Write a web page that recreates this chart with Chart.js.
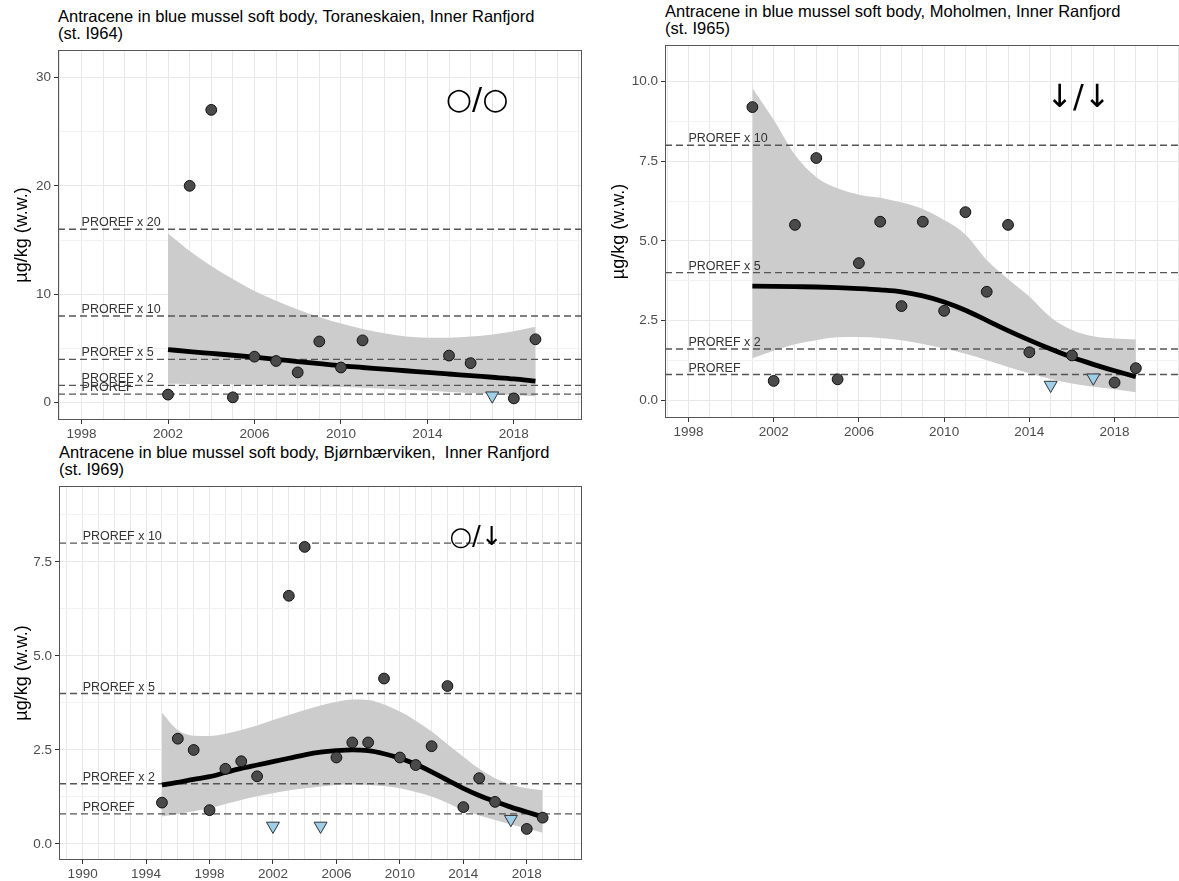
<!DOCTYPE html>
<html>
<head>
<meta charset="utf-8">
<script src="https://cdn.jsdelivr.net/npm/chart.js@4.4.0/dist/chart.umd.min.js"></script>
<style>
  html, body { margin: 0; padding: 0; background: #fff; overflow: hidden; }
  body { width: 1179px; height: 881px; position: relative; font-family: "Liberation Sans", Arial, sans-serif; }
  canvas { position: absolute; }
  .title { position: absolute; font-size: 16.5px; line-height: 17px; color: #000; white-space: nowrap; }
</style>
</head>
<body>
<div class="title" style="left:58px; top:8px;">Antracene in blue mussel soft body, Toraneskaien, Inner Ranfjord<br>(st. I964)</div>
<div class="title" style="left:665px; top:3px;">Antracene in blue mussel soft body, Moholmen, Inner Ranfjord<br>(st. I965)</div>
<div class="title" style="left:59px; top:444px;">Antracene in blue mussel soft body, Bjørnbærviken,&nbsp; Inner Ranfjord<br>(st. I969)</div>

<canvas id="c1" width="590" height="440" style="left:0; top:0;"></canvas>
<canvas id="c2" width="610" height="440" style="left:590px; top:0;"></canvas>
<canvas id="c3" width="590" height="441" style="left:0; top:440px;"></canvas>

<script>
// ---- Toraneskaien (st. I964) ----
const yearsI964 = [2002, 2003, 2004, 2005, 2006, 2007, 2008, 2009, 2010, 2011, 2015, 2016, 2018, 2019];
const valuesI964 = [0.75, 20, 27, 0.5, 4.25, 3.85, 2.8, 5.65, 3.25, 5.75, 4.35, 3.65, 0.4, 5.85];
const loqYearsI964 = [2017];
const loqValuesI964 = [0.65];
const trendYearsI964 = [2002, 2003, 2004, 2005, 2006, 2007, 2008, 2009, 2010, 2011, 2012, 2013, 2014, 2015, 2016, 2017, 2018, 2019];
const trendI964 = [4.9, 4.72, 4.55, 4.38, 4.2, 4.0, 3.8, 3.6, 3.4, 3.25, 3.1, 2.95, 2.8, 2.65, 2.5, 2.35, 2.2, 2.0];
const upperI964 = [15.6, 14.0, 12.6, 11.4, 10.3, 9.4, 8.6, 7.9, 7.3, 6.8, 6.4, 6.1, 6.0, 6.0, 6.1, 6.3, 6.6, 7.0];
const lowerI964 = [1.75, 1.73, 1.7, 1.68, 1.65, 1.6, 1.55, 1.5, 1.45, 1.38, 1.3, 1.2, 1.1, 1.0, 0.9, 0.8, 0.7, 0.6];
const prorefI964 = [0.8, 1.6, 4, 8, 16];
const prorefLabelsI964 = ['PROREF', 'PROREF x 2', 'PROREF x 5', 'PROREF x 10', 'PROREF x 20'];
const xLabelsI964 = [1998, 2002, 2006, 2010, 2014, 2018];
const yLabelsI964 = [0, 10, 20, 30];

// ---- Moholmen (st. I965) ----
const yearsI965 = [2001, 2002, 2003, 2004, 2005, 2006, 2007, 2008, 2009, 2010, 2011, 2012, 2013, 2014, 2016, 2018, 2019];
const valuesI965 = [9.2, 0.6, 5.5, 7.6, 0.65, 4.3, 5.6, 2.95, 5.6, 2.8, 5.9, 3.4, 5.5, 1.5, 1.4, 0.55, 1.0];
const loqYearsI965 = [2015, 2017];
const loqValuesI965 = [0.47, 0.7];
const trendYearsI965 = [2001, 2002, 2003, 2004, 2005, 2006, 2007, 2008, 2009, 2010, 2011, 2012, 2013, 2014, 2015, 2016, 2017, 2018, 2019];
const trendI965 = [3.58, 3.57, 3.56, 3.55, 3.53, 3.5, 3.46, 3.4, 3.27, 3.08, 2.82, 2.5, 2.18, 1.88, 1.6, 1.34, 1.12, 0.92, 0.73];
const upperI965 = [9.8, 8.8, 7.7, 7.0, 6.65, 6.45, 6.35, 6.2, 6.0, 5.65, 5.2, 4.4, 3.8, 3.25, 2.6, 2.2, 2.0, 1.93, 1.9];
const lowerI965 = [1.31, 1.55, 1.75, 1.88, 1.97, 1.98, 1.95, 1.88, 1.76, 1.62, 1.45, 1.25, 1.04, 0.84, 0.66, 0.52, 0.42, 0.34, 0.24];
const prorefI965 = [0.8, 1.6, 4, 8];
const prorefLabelsI965 = ['PROREF', 'PROREF x 2', 'PROREF x 5', 'PROREF x 10'];
const xLabelsI965 = [1998, 2002, 2006, 2010, 2014, 2018];
const yLabelsI965 = [0, 2.5, 5, 7.5, 10];

// ---- Bjørnbærviken (st. I969) ----
const yearsI969 = [1995, 1996, 1997, 1998, 1999, 2000, 2001, 2003, 2004, 2006, 2007, 2008, 2009, 2010, 2011, 2012, 2013, 2014, 2015, 2016, 2018, 2019];
const valuesI969 = [1.1, 2.8, 2.5, 0.9, 2.0, 2.2, 1.8, 6.6, 7.9, 2.3, 2.7, 2.7, 4.4, 2.3, 2.1, 2.6, 4.2, 0.98, 1.75, 1.12, 0.4, 0.7];
const loqYearsI969 = [2002, 2005, 2017];
const loqValuesI969 = [0.48, 0.48, 0.66];
const trendYearsI969 = [1995, 1996, 1997, 1998, 1999, 2000, 2001, 2002, 2003, 2004, 2005, 2006, 2007, 2008, 2009, 2010, 2011, 2012, 2013, 2014, 2015, 2016, 2017, 2018, 2019];
const trendI969 = [1.57, 1.64, 1.72, 1.79, 1.9, 2.01, 2.1, 2.19, 2.28, 2.37, 2.44, 2.48, 2.5, 2.48, 2.4, 2.28, 2.12, 1.92, 1.7, 1.48, 1.29, 1.13, 0.98, 0.85, 0.72];
const upperI969 = [3.49, 3.03, 2.88, 2.87, 2.93, 3.03, 3.15, 3.3, 3.43, 3.56, 3.68, 3.78, 3.84, 3.83, 3.71, 3.52, 3.28, 2.99, 2.65, 2.32, 2.0, 1.75, 1.58, 1.48, 1.43];
const lowerI969 = [0.73, 0.8, 0.87, 0.95, 1.06, 1.17, 1.27, 1.35, 1.42, 1.48, 1.53, 1.57, 1.58, 1.57, 1.54, 1.48, 1.38, 1.26, 1.09, 0.9, 0.76, 0.64, 0.52, 0.42, 0.3];
const prorefI969 = [0.8, 1.6, 4, 8];
const prorefLabelsI969 = ['PROREF', 'PROREF x 2', 'PROREF x 5', 'PROREF x 10'];
const xLabelsI969 = [1990, 1994, 1998, 2002, 2006, 2010, 2014, 2018];
const yLabelsI969 = [0, 2.5, 5, 7.5];

const trendSymbols = ['○/○', '↓/↓', '○/↓'];
const yAxisTitle = 'µg/kg (w.w.)';

function range(a, b, step) {
  const out = [];
  for (let v = a; v <= b + 1e-9; v += step) out.push(Math.round(v * 100) / 100);
  return out;
}

function pairs(xs, ys) {
  return xs.map((x, i) => ({ x: x, y: ys[i] }));
}

// draws PROREF texts, the trend symbol and the panel frame
const panelDecor = {
  id: 'panelDecor',
  afterDatasetsDraw(chart, args, opts) {
    const ctx = chart.ctx;
    const xs = chart.scales.x, ys = chart.scales.y;
    ctx.save();
    ctx.fillStyle = '#333';
    ctx.font = '12.5px "Liberation Sans", Arial, sans-serif';
    ctx.textAlign = 'left';
    ctx.textBaseline = 'alphabetic';
    opts.levels.forEach((lev, i) => {
      ctx.fillText(opts.labels[i], xs.getPixelForValue(opts.labelX), ys.getPixelForValue(lev) - 3);
    });
    ctx.fillStyle = '#000';
    ctx.font = opts.symbolFont;
    ctx.textAlign = 'center';
    ctx.textBaseline = 'middle';
    ctx.fillText(opts.symbol, xs.getPixelForValue(opts.symbolX), ys.getPixelForValue(opts.symbolY));
    ctx.restore();
  },
  afterDraw(chart) {
    const a = chart.chartArea, ctx = chart.ctx;
    ctx.save();
    ctx.strokeStyle = '#555';
    ctx.lineWidth = 1;
    ctx.strokeRect(Math.round(a.left) + 0.5, Math.round(a.top) + 0.5, Math.round(a.right - a.left) - 1, Math.round(a.bottom - a.top) - 1);
    ctx.restore();
  }
};

function makePanel(id, p) {
  const datasets = [
    { type: 'line', data: pairs(p.trendYears, p.upper), borderWidth: 0, borderColor: 'rgba(0,0,0,0)', pointRadius: 0, fill: false, cubicInterpolationMode: 'monotone', order: 6 },
    { type: 'line', data: pairs(p.trendYears, p.lower), borderWidth: 0, borderColor: 'rgba(0,0,0,0)', pointRadius: 0, fill: '-1', backgroundColor: 'rgb(204,204,204)', cubicInterpolationMode: 'monotone', order: 5 }
  ];
  p.proref.forEach(lev => {
    datasets.push({ type: 'line', data: [{ x: p.xMin, y: lev }, { x: p.xMax, y: lev }], borderColor: '#555', borderWidth: 1.4, borderDash: [7, 4], pointRadius: 0, fill: false, order: 4 });
  });
  datasets.push({ type: 'line', data: pairs(p.trendYears, p.trend), borderColor: '#000', borderWidth: 4.8, pointRadius: 0, fill: false, cubicInterpolationMode: 'monotone', order: 3 });
  datasets.push({ type: 'scatter', data: pairs(p.years, p.values), pointRadius: 5.4, pointBackgroundColor: '#4a4a4a', pointBorderColor: '#111', pointBorderWidth: 1, order: 2 });
  datasets.push({ type: 'scatter', data: pairs(p.loqYears, p.loqValues), pointStyle: 'triangle', rotation: 180, pointRadius: 7.5, pointBackgroundColor: '#9dcfe9', pointBorderColor: '#333', pointBorderWidth: 1, order: 1 });

  const xTicks = range(Math.ceil(p.xMin), Math.floor(p.xMax), 1);
  const yTicks = range(0, p.yLabels[p.yLabels.length - 1] + p.yMinor, p.yMinor).filter(v => v <= p.yMax);
  const isXLab = v => p.xLabels.indexOf(v) >= 0;
  const isYLab = v => p.yLabels.indexOf(v) >= 0;

  new Chart(document.getElementById(id), {
    data: { datasets: datasets },
    plugins: [panelDecor],
    options: {
      responsive: false,
      animation: false,
      events: [],
      layout: { padding: { left: 0, top: p.padTop, right: p.padRight, bottom: 0 } },
      plugins: {
        legend: { display: false },
        tooltip: { enabled: false },
        panelDecor: { levels: p.proref, labels: p.prorefLabels, labelX: p.xLabels[0], symbol: p.symbol, symbolX: p.symbolX, symbolY: p.symbolY, symbolFont: p.symbolFont }
      },
      scales: {
        x: {
          type: 'linear', min: p.xMin, max: p.xMax,
          afterBuildTicks: axis => { axis.ticks = xTicks.map(v => ({ value: v })); },
          afterFit: axis => { axis.height = p.xAxisH; },
          border: { display: false },
          grid: {
            color: '#e8e8e8', lineWidth: 1, tickLength: 4,
            tickColor: c => (c.tick && isXLab(c.tick.value)) ? '#333' : 'rgba(0,0,0,0)'
          },
          ticks: { autoSkip: false, maxRotation: 0, padding: 2, color: '#4d4d4d', font: { size: 13.5, family: '"Liberation Sans", Arial, sans-serif' },
            callback: v => isXLab(v) ? String(v) : '' }
        },
        y: {
          type: 'linear', min: p.yMin, max: p.yMax,
          afterBuildTicks: axis => { axis.ticks = yTicks.map(v => ({ value: v })); },
          afterFit: axis => { axis.width = p.yAxisW; },
          border: { display: false },
          grid: {
            color: c => (c.tick && isYLab(c.tick.value)) ? '#e8e8e8' : '#f2f2f2',
            lineWidth: 1, tickLength: 4,
            tickColor: c => (c.tick && isYLab(c.tick.value)) ? '#333' : 'rgba(0,0,0,0)'
          },
          ticks: { autoSkip: false, padding: 3, color: '#4d4d4d', font: { size: 13.5, family: '"Liberation Sans", Arial, sans-serif' },
            callback: v => isYLab(v) ? (p.yDecimals ? v.toFixed(p.yDecimals) : String(v)) : '' },
          title: { display: true, text: yAxisTitle, color: '#000', font: { size: 18, family: '"Liberation Sans", Arial, sans-serif' }, padding: { top: p.yTitlePad, bottom: 0 } }
        }
      }
    }
  });
}

makePanel('c1', {
  years: yearsI964, values: valuesI964, loqYears: loqYearsI964, loqValues: loqValuesI964,
  trendYears: trendYearsI964, trend: trendI964, upper: upperI964, lower: lowerI964,
  proref: prorefI964, prorefLabels: prorefLabelsI964, xLabels: xLabelsI964, yLabels: yLabelsI964,
  xMin: 1996.91, xMax: 2021.13, yMin: -1.59, yMax: 32.52, yMinor: 5, yDecimals: 0,
  padTop: 50, padRight: 7, xAxisH: 20, yAxisW: 58, yTitlePad: 11,
  symbol: trendSymbols[0], symbolX: 2016.3, symbolY: 27.8, symbolFont: '30px "DejaVu Sans", sans-serif'
});

makePanel('c2', {
  years: yearsI965, values: valuesI965, loqYears: loqYearsI965, loqValues: loqValuesI965,
  trendYears: trendYearsI965, trend: trendI965, upper: upperI965, lower: lowerI965,
  proref: prorefI965, prorefLabels: prorefLabelsI965, xLabels: xLabelsI965, yLabels: yLabelsI965,
  xMin: 1996.9, xMax: 2021.61, yMin: -0.565, yMax: 11.15, yMinor: 1.25, yDecimals: 1,
  padTop: 45, padRight: 7, xAxisH: 22, yAxisW: 75, yTitlePad: 18,
  symbol: trendSymbols[1], symbolX: 2016.3, symbolY: 9.47, symbolFont: '32px "DejaVu Sans", sans-serif'
});

makePanel('c3', {
  years: yearsI969, values: valuesI969, loqYears: loqYearsI969, loqValues: loqValuesI969,
  trendYears: trendYearsI969, trend: trendI969, upper: upperI969, lower: lowerI969,
  proref: prorefI969, prorefLabels: prorefLabelsI969, xLabels: xLabelsI969, yLabels: yLabelsI969,
  xMin: 1988.51, xMax: 2021.45, yMin: -0.426, yMax: 9.52, yMinor: 1.25, yDecimals: 1,
  padTop: 46, padRight: 4, xAxisH: 21, yAxisW: 59, yTitlePad: 11,
  symbol: trendSymbols[2], symbolX: 2014.8, symbolY: 8.14, symbolFont: '26px "DejaVu Sans", sans-serif'
});
</script>
</body>
</html>
